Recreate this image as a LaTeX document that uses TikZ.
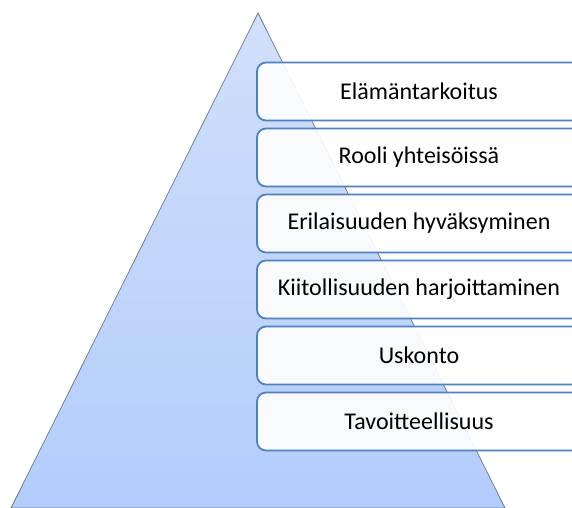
\documentclass[tikz,border=0pt]{standalone}
\usepackage{fontspec}
\setmainfont{Carlito}
\definecolor{pyrcolor0000}{RGB}{224,233,252}
\definecolor{pyrcolor0001}{RGB}{163,195,250}
\definecolor{pyrcolor0002}{RGB}{108,116,130}
\definecolor{pyrcolor0003}{RGB}{79,129,189}
\definecolor{pyrcolor0004}{RGB}{255,255,255}
\pgfdeclareverticalshading{pyrshade}{100bp}{color(0bp)=(pyrcolor0001); color(100bp)=(pyrcolor0000)}

\begin{document}
\begin{tikzpicture}[
  yscale = -1,
  pstyle0/.style = {draw=pyrcolor0002,shading=pyrshade,line width=0.7pt},
  pstyle1/.style = {draw=pyrcolor0003,fill=pyrcolor0004,fill opacity=0.9,text opacity=1,line width=1.8pt,rounded corners=9pt,minimum width=324pt,minimum height=58pt,inner sep=0pt,text=black,font=\fontsize{24pt}{28pt}\selectfont},
]
  \clip (0pt,0pt) rectangle (572pt,507pt);
  \draw[pstyle0] (258pt,13pt) -- (505pt,508pt) -- (11pt,508pt) -- cycle;
  \node[pstyle1] (purpose) at (419pt,91.5pt) {Elämäntarkoitus};
  \node[pstyle1] (role) at (419pt,157.5pt) {Rooli yhteisöissä};
  \node[pstyle1] (diversity) at (419pt,223.5pt) {Erilaisuuden hyväksyminen};
  \node[pstyle1] (gratitude) at (419pt,289.5pt) {Kiitollisuuden harjoittaminen};
  \node[pstyle1] (religion) at (419pt,355.5pt) {Uskonto};
  \node[pstyle1] (goals) at (419pt,421.5pt) {Tavoitteellisuus};
\end{tikzpicture}
\end{document}
